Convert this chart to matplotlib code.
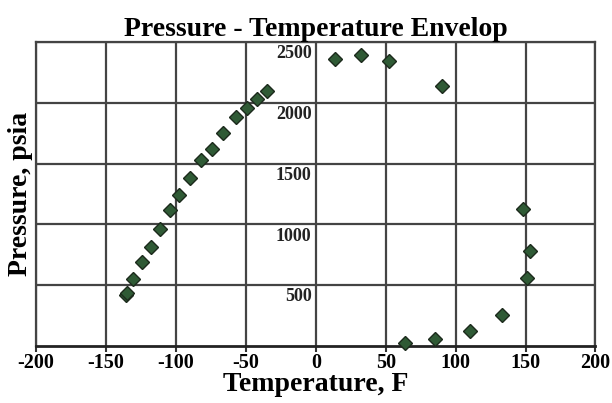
import numpy as np
import matplotlib
matplotlib.use("Agg")
import matplotlib.pyplot as plt

temp_left = [-136, -135, -131, -124.6, -118, -111.6, -104, -97.5, -90, -82, -74.5,
             -66.5, -57, -49.5, -42, -35]
pres_left = [420, 440, 556, 693, 811, 959, 1120, 1243, 1380, 1528, 1624,
             1753, 1882, 1961, 2032, 2095]
temp_right = [14, 32, 52.5, 90.5, 148, 153, 151, 133, 110.5, 85.5, 64]
pres_right = [2356, 2391, 2342, 2136, 1126, 783, 564, 260, 126, 58, 27]

xticks = [-200, -150, -100, -50, 0, 50, 100, 150, 200]
yticks = [500, 1000, 1500, 2000, 2500]

plt.rcParams['font.family'] = 'Liberation Serif'
plt.rcParams['font.weight'] = 'bold'
plt.rcParams['axes.unicode_minus'] = False

fig = plt.figure(figsize=(6.12, 4.03), dpi=100)
ax = fig.add_axes([0.059, 0.141, 0.914, 0.755])

temp = temp_left + temp_right
pres = pres_left + pres_right
ax.plot(temp, pres, linestyle='none', marker='D', markersize=7.5,
        markerfacecolor='#2f5a35', markeredgecolor='#1c2a1c', markeredgewidth=1.0,
        zorder=5, clip_on=False)

ax.set_xlim(-200, 200)
ax.set_ylim(0, 2500)
ax.set_xticks(xticks)
ax.set_yticks(yticks)
ax.set_yticklabels([])
ax.tick_params(axis='y', length=0, pad=0)
ax.tick_params(axis='x', length=4, width=1.5, color='#333333', labelsize=14.5, pad=1)
for lab in ax.get_xticklabels():
    lab.set_fontweight('bold')

ax.grid(True, color='#444444', linewidth=1.6)
ax.set_axisbelow(True)
for s in ax.spines.values():
    s.set_color('#444444')
    s.set_linewidth(1.6)
ax.spines['bottom'].set_color('#222222')
ax.spines['bottom'].set_linewidth(2)

# y labels sit left of the x = 0 line, just under each gridline
for v in yticks:
    ax.text(-3, v - 25, str(v), ha='right', va='top', fontsize=13,
            fontweight='bold', color='#222222')

ax.set_title('Pressure - Temperature Envelop', fontsize=20, fontweight='bold', pad=3)
ax.set_xlabel('Temperature, F', fontsize=20, fontweight='bold', labelpad=-1)
ax.set_ylabel('Pressure, psia', fontsize=20, fontweight='bold', labelpad=2)

fig.savefig('out.png', dpi=100)
